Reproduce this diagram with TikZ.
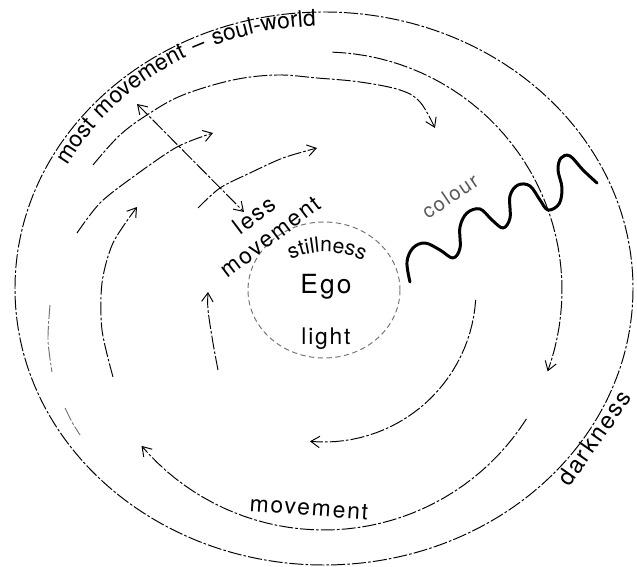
\documentclass[tikz,border=0pt]{standalone}
\usepackage{fontspec}
\setmainfont{TeX Gyre Heros}[LetterSpace=8]
\usetikzlibrary{arrows.meta,decorations.text}

\tikzset{
  ring/.style={line width=0.55pt,dash pattern=on 8pt off 1.2pt on 1.5pt off 1.2pt},
  faint/.style={ring,black!55},
  flow/.style={ring,-{Straight Barb[length=5pt,width=6.5pt]}},
  lbl/.style={font=\fontsize{13}{15}\selectfont,inner sep=0pt,align=center}
}

\begin{document}
\begin{tikzpicture}[x=0.02cm,y=-0.02cm]
\useasboundingbox (0,0) rectangle (637,567);
% outer boundary and the ring of text
\draw[ring] (324,288.5) ellipse [x radius=309,y radius=276.5];
\path[decorate,decoration={text along path,text align=center,
  text={|\fontsize{13}{15}\selectfont|most movement – soul-world}}]
  plot[domain=-160:-84,samples=40] ({324+291*cos(\x)},{290+264*sin(\x)});
% big rings
\draw[flow] plot[domain=-88:20,samples=40] ({324+238*cos(\x)},{290+238*sin(\x)});
\draw[flow] plot[domain=32.5:139.5,samples=40] ({324+240*cos(\x)},{290+240*sin(\x)});
\draw[faint] plot[smooth] coordinates {(50,305) (48,340) (52,372)};
\draw[faint] plot[smooth] coordinates {(65,408) (72,422) (80,435)};
% spiral arcs on the left
\draw[flow] plot[smooth,tension=0.6] coordinates {(93,165) (120,135) (150,113) (183,95) (233,80) (277,75) (317,78) (360,82) (400,90) (420,102) (435,128)};
\draw[flow] plot[smooth] coordinates {(77,233) (100,203) (133,177) (177,147) (213,133)};
\draw[flow] plot[smooth] coordinates {(198,208) (220,188) (250,173) (283,158) (317,148)};
\draw[flow] plot[smooth] coordinates {(113,377) (102,330) (102,283) (113,243) (137,207)};
\draw[flow] plot[smooth] coordinates {(218,370) (213,343) (208,310) (208,292)};
% inner ring
\draw[flow] plot[domain=3.7:95.3,samples=30] ({324+152*cos(\x)},{290+152*sin(\x)});
% ego
\draw[faint,dash pattern=on 3pt off 2pt] (324,290) ellipse [x radius=76,y radius=68];
\node[lbl,font=\fontsize{15}{17}\selectfont] (ego) at (326,287) {Ego};
\path[decorate,decoration={text along path,text align=center,
  text={|\fontsize{12}{14}\selectfont|stillness}}]
  plot[domain=-125:-52,samples=30] ({325+82*cos(\x)},{334+82*sin(\x)});
\node[lbl,anchor=base] (light) at (326,345) {light};
% labels
\node[lbl,rotate=37] (less) at (262,226) {less\\movement};
\node[lbl,rotate=34,text=black!65,font=\fontsize{11.5}{14}\selectfont] (colour) at (450,196) {colour};
\node[lbl,rotate=55,font=\fontsize{13.5}{16}\selectfont] (dark) at (594,438) {darkness};
\node[lbl,rotate=-4] (move) at (309,508) {movement};
% radial double arrow
\coordinate (out) at (137,104);
\coordinate (in) at (244,212);
\draw[ring,{Straight Barb[length=5pt,width=6.5pt]}-{Straight Barb[length=5pt,width=6.5pt]}] (out) -- (in);
% colour wave
\draw[line width=1.7pt,line cap=round,line join=round] plot[smooth,tension=0.6] coordinates {(410,282) (407,262) (413,248) (425,243) (440,250) (453,258) (460,248) (460,227) (467,213) (480,209) (492,220) (503,228) (510,218) (510,196) (518,185) (530,186) (540,200) (548,210) (559,204) (562,188) (558,170) (561,158) (570,156) (583,170) (597,183)};
\end{tikzpicture}
\end{document}
